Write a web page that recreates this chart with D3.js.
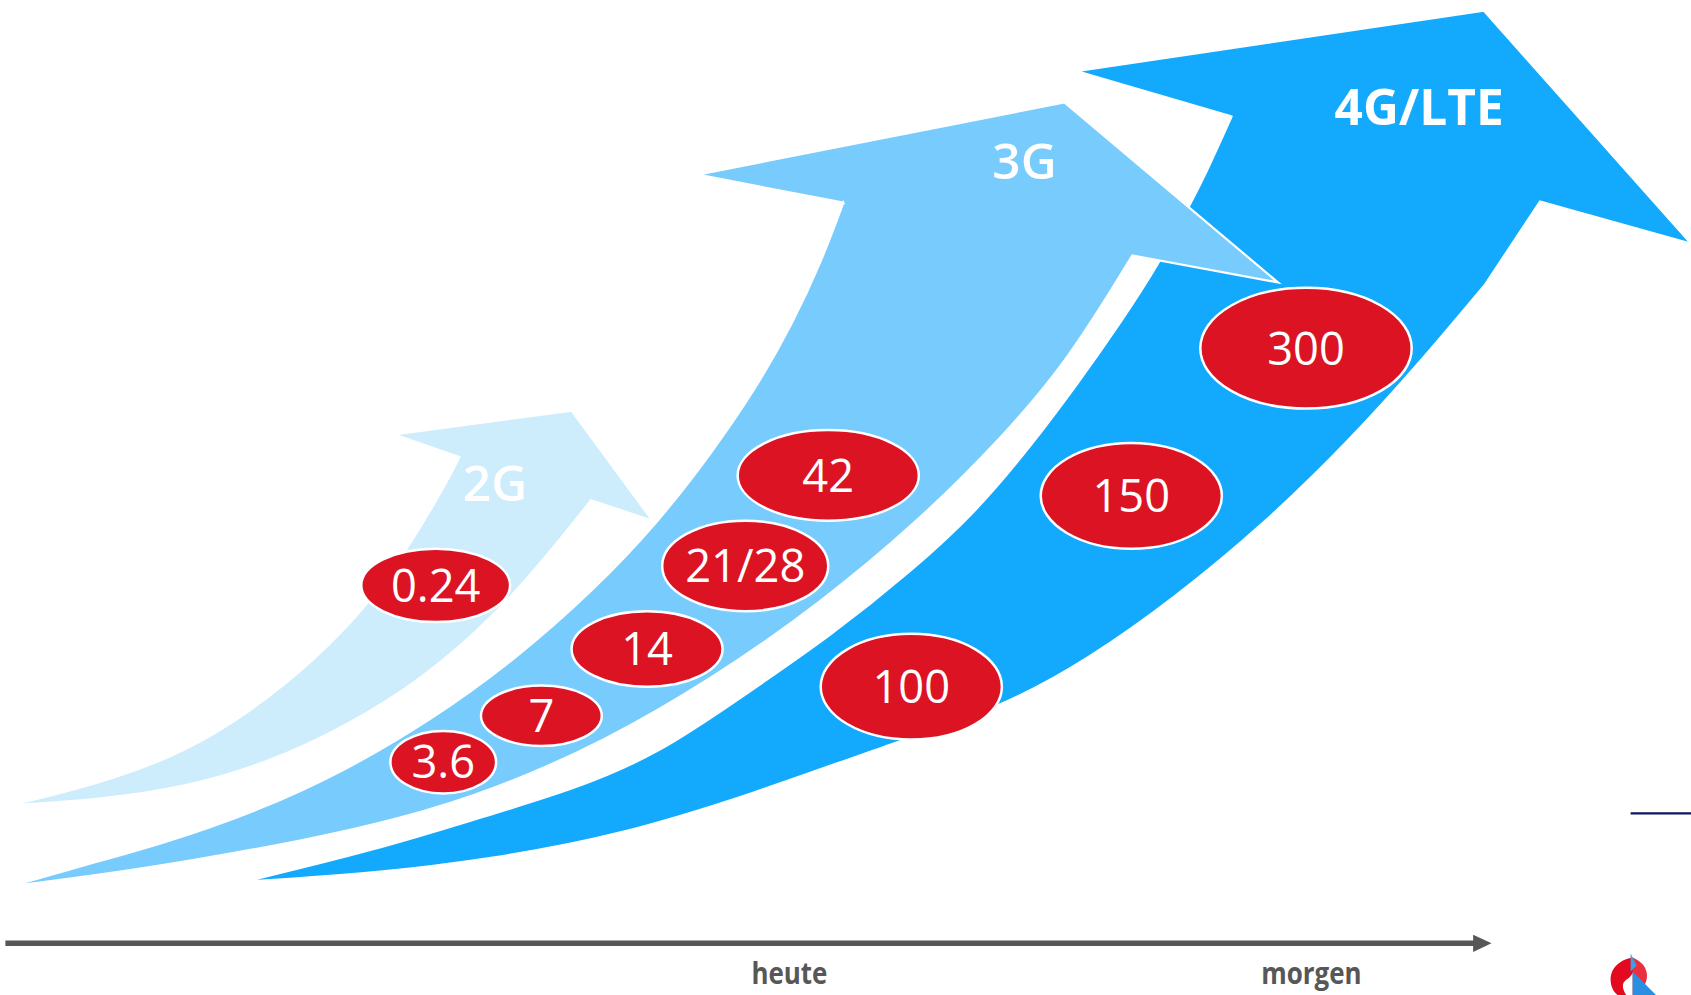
<!DOCTYPE html>
<html>
<head>
<meta charset="utf-8">
<script src="https://cdn.jsdelivr.net/npm/d3@7"></script>
<style>
  html, body { margin: 0; padding: 0; background: #fff; }
  svg { display: block; }
</style>
</head>
<body>
<script>
// generations and their arrow colours
const generations = ["2G", "3G", "4G/LTE"];
const genColors = ["#cdedfd", "#78cbfd", "#13aafd"];

// peak speeds (Mbit/s) per bubble, and which generation they belong to
const speedLabels = ["0.24", "3.6", "7", "14", "21/28", "42", "100", "150", "300"];
const speedGen = ["2G", "3G", "3G", "3G", "3G", "3G", "4G/LTE", "4G/LTE", "4G/LTE"];

// bubble layout on the 1568 x 923 design grid
const bubbleX = [404, 411, 502, 600, 691, 768, 845, 1049, 1211];
const bubbleY = [543, 707, 664, 602, 525, 441, 637, 460, 323];
const bubbleRx = [69, 49, 56, 70, 77, 84, 84, 84, 98];
const bubbleRy = [34, 29, 28, 35, 42, 42, 49, 49, 56];

// time axis labels
const timeLabels = ["heute", "morgen"];
const timeX = [732, 1216];

// arrow outlines: tail -> lower edge -> head -> upper edge -> tail
const lower2G = [[9, 747], [90, 742], [170, 731], [250, 707], [320, 674], [392, 630], [460, 570], [510, 512], [548, 464]];
const head2G = [[605, 483], [530, 381], [366, 403], [426, 424]];
const upper2G = [[426, 424], [414, 448], [380, 506], [340, 563], [290, 614], [230, 662], [170, 698], [107, 722], [40, 740], [9, 747]];

const lower3G = [[11, 822], [90, 812], [180, 798], [280, 780], [370, 760], [460, 732], [560, 688], [660, 630], [760, 560], [850, 485], [930, 405], [990, 335], [1050, 237]];
const head3G = [[1185, 262], [987, 95], [647, 162], [782, 188]];
const upper3G = [[782, 188], [762, 242], [735, 300], [700, 362], [660, 420], [610, 485], [550, 548], [480, 610], [400, 668], [320, 715], [240, 752], [150, 783], [80, 802], [11, 822]];

const lower4G = [[226, 818], [350, 810], [460, 796], [570, 776], [700, 736], [820, 692], [930, 656], [1010, 611], [1090, 554], [1170, 488], [1250, 410], [1315, 338], [1377, 264]];
const head4G = [[1428, 187], [1568, 226], [1376, 10], [998, 66], [1142, 108]];
const upper4G = [[1142, 108], [1115, 168], [1100, 196], [1075, 244], [1040, 298], [1000, 355], [955, 415], [905, 475], [845, 530], [770, 590], [690, 645], [610, 700], [530, 733], [450, 757], [350, 788], [226, 818]];

const arrowShapes = {
	"2G": [lower2G, head2G, upper2G],
	"3G": [lower3G, head3G, upper3G],
	"4G/LTE": [lower4G, head4G, upper4G]
};
const labelPos = { "2G": [459, 465], "3G": [950, 166], "4G/LTE": [1316, 116] };

const width = 1691, height = 995;
const designW = 1568, designH = 923;
const k = width / designW;

const x = d3.scaleLinear().domain([0, designW]).range([0, width]);
const y = d3.scaleLinear().domain([0, designH]).range([0, height]);
const color = d3.scaleOrdinal().domain(generations).range(genColors);

const svg = d3.select("body").append("svg")
	.attr("width", width)
	.attr("height", height);

// smooth edges; basis keeps the end points fixed
const edge = d3.line()
	.x(d => x(d[0]))
	.y(d => y(d[1]))
	.curve(d3.curveBasis);

function arrowPath(parts) {
	const [lo, head, up] = parts;
	const a = edge(lo);
	const h = head.map(p => "L" + x(p[0]) + "," + y(p[1])).join("");
	const b = edge(up).replace(/^M/, "L");
	return a + h + b + "Z";
}

// draw order: 2G, 4G, then 3G so its head sits on top of 4G
const drawOrder = ["2G", "4G/LTE", "3G"];
svg.selectAll(".arrow")
	.data(drawOrder)
	.enter().append("path")
	.attr("class", "arrow")
	.attr("d", g => arrowPath(arrowShapes[g]))
	.attr("fill", g => color(g))
	.attr("stroke", "#fff")
	.attr("stroke-width", 2.2)
	.attr("stroke-linejoin", "miter");

// generation labels
svg.selectAll(".gen-label")
	.data(generations)
	.enter().append("text")
	.attr("class", "gen-label")
	.attr("x", g => x(labelPos[g][0]))
	.attr("y", g => y(labelPos[g][1]))
	.attr("text-anchor", "middle")
	.attr("font-family", "'Open Sans', sans-serif")
	.attr("font-weight", g => g === "4G/LTE" ? 700 : 600)
	.attr("font-size", 46 * k)
	.attr("fill", "#fff")
	.text(g => g);

// speed bubbles
const bubbles = svg.selectAll(".bubble")
	.data(speedLabels.map((s, i) => ({ s, g: speedGen[i], i })))
	.enter().append("g")
	.attr("class", "bubble")
	.attr("transform", d => "translate(" + x(bubbleX[d.i]) + "," + y(bubbleY[d.i]) + ")");

bubbles.append("ellipse")
	.attr("rx", d => x(bubbleRx[d.i]))
	.attr("ry", d => y(bubbleRy[d.i]))
	.attr("fill", "#dc1323")
	.attr("stroke", "#fff")
	.attr("stroke-width", 2.5);

bubbles.append("text")
	.attr("text-anchor", "middle")
	.attr("dy", "0.36em")
	.attr("font-family", "'Open Sans', sans-serif")
	.attr("font-size", 42 * k)
	.attr("fill", "#fff")
	.text(d => d.s);

// time axis arrow
const axisY = 875;
svg.append("line")
	.attr("x1", x(5))
	.attr("x2", x(1370))
	.attr("y1", y(axisY))
	.attr("y2", y(axisY))
	.attr("stroke", "#575757")
	.attr("stroke-width", 5.5);

svg.append("path")
	.attr("d", "M" + x(1366) + "," + y(axisY - 8) + "L" + x(1383) + "," + y(axisY) + "L" + x(1366) + "," + y(axisY + 8) + "Z")
	.attr("fill", "#575757");

svg.selectAll(".time-label")
	.data(timeLabels)
	.enter().append("text")
	.attr("class", "time-label")
	.attr("transform", (d, i) => "translate(" + x(timeX[i]) + "," + y(913) + ") scale(0.86,1)")
	.attr("text-anchor", "middle")
	.attr("font-family", "'Open Sans', sans-serif")
	.attr("font-weight", 700)
	.attr("font-size", 28 * k)
	.attr("fill", "#575757")
	.text(d => d);

// small navy rule at the right edge
svg.append("line")
	.attr("x1", x(1512))
	.attr("x2", x(1568))
	.attr("y1", y(754.5))
	.attr("y2", y(754.5))
	.attr("stroke", "#0c1463")
	.attr("stroke-width", 2.2);

// corner logo (partly cut off)
const logo = svg.append("g")
	.attr("transform", "translate(" + x(1512) + "," + y(905) + ")");
logo.append("path")
	.attr("d", "M2,-18 C-10,-16 -20,-8 -20,4 C-20,12 -16,18 -12,20 L-4,20 C-8,14 -10,8 -4,4 C2,0 6,-6 2,-18Z")
	.attr("fill", "#e30a1f");
logo.append("path")
	.attr("d", "M2,-18 C12,-14 18,-6 16,4 C14,12 10,16 4,20 L2,20 Z")
	.attr("fill", "#e83040");
logo.append("path")
	.attr("d", "M0,-22 L6,-10 L0,-4 Z")
	.attr("fill", "#3aa0e8");
logo.append("path")
	.attr("d", "M2,-4 L26,20 L2,20 Z")
	.attr("fill", "#2a8fe0");
</script>
</body>
</html>
